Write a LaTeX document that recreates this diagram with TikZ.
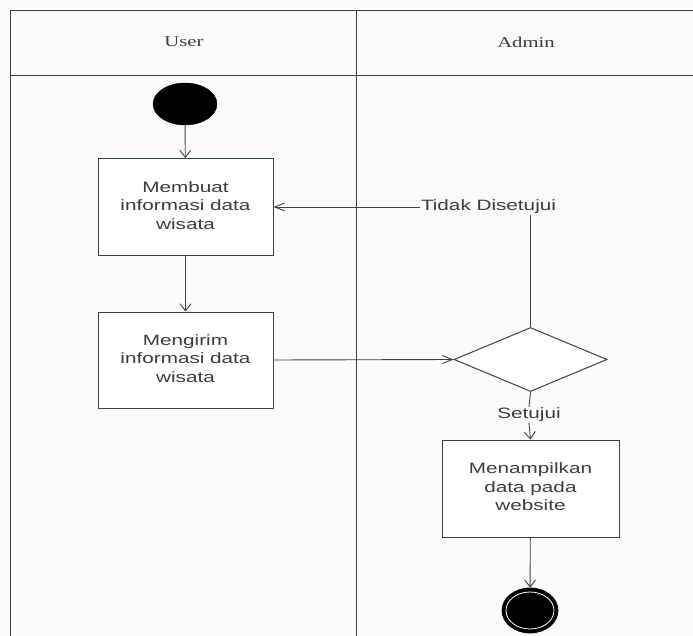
\documentclass[tikz,border=0pt]{standalone}
\usepackage{fontspec}
\setmainfont{Liberation Serif}
\newfontfamily\boxfont{Liberation Sans}
\usetikzlibrary{shapes.geometric,arrows.meta}
\definecolor{bgc}{RGB}{252,251,250}
\definecolor{linec}{RGB}{52,68,68}
\definecolor{txtc}{RGB}{60,60,60}
\newcommand{\wide}[1]{\scalebox{1.38}[1]{#1}}
\tikzset{
  frameline/.style={draw=linec, line width=1pt},
  actbox/.style={rectangle, draw=linec, line width=1pt, fill=white, inner sep=0pt,
    minimum width=175pt, minimum height=97pt, font=\boxfont\fontsize{15}{18.5}\selectfont,
    text=txtc, align=center},
  lbl/.style={inner sep=1pt, font=\boxfont\fontsize{15}{18}\selectfont, text=txtc},
  hdr/.style={inner sep=0pt, font=\fontsize{15}{18}\selectfont, text=txtc},
  flow/.style={draw=linec, line width=0.9pt},
  varr/.style={flow, -{Straight Barb[length=7pt,width=11pt,line width=0.9pt]}},
  harr/.style={flow, -{Straight Barb[length=10pt,width=8pt,line width=0.9pt]}},
}
\begin{document}
\begin{tikzpicture}[x=1pt,y=-1pt]
\useasboundingbox (0,0) rectangle (693,636);
\fill[bgc] (0,0) rectangle (693,636);
% swimlane frame
\coordinate (tl) at (10,11);
\coordinate (tr) at (693,11);
\coordinate (hl) at (10,75.5);
\coordinate (hr) at (693,75.5);
\coordinate (bl) at (10,636);
\coordinate (dt) at (356,11);
\coordinate (db) at (356,636);
\draw[frameline] (tr) -- (tl) -- (bl);
\draw[frameline] (hl) -- (hr);
\draw[frameline] (dt) -- (db);
\node[hdr] (huser) at (184,42) {\wide{User}};
\node[hdr] (hadmin) at (526,42) {\wide{Admin}};
% nodes
\node[ellipse, fill=black, draw=black, minimum width=64pt, minimum height=42pt, inner sep=0pt] (start) at (185,104) {};
\node[actbox] (b1) at (185.5,207) {\wide{\begin{tabular}{@{}c@{}}Membuat\\informasi data\\wisata\end{tabular}}};
\node[actbox, minimum height=96pt] (b2) at (185.5,360) {\wide{\begin{tabular}{@{}c@{}}Mengirim\\informasi data\\wisata\end{tabular}}};
\node[diamond, draw=linec, line width=1pt, fill=white, minimum width=153pt, minimum height=64pt, inner sep=0pt] (dec) at (530.5,359.5) {};
\node[lbl] (tidak) at (488.5,207) {\wide{Tidak Disetujui}};
\node[lbl] (setuju) at (529,415) {\wide{Setujui}};
\node[actbox, minimum width=177pt] (b3) at (530.5,488.5) {\wide{\begin{tabular}{@{}c@{}}Menampilkan\\data pada\\website\end{tabular}}};
\node[ellipse, fill=black, draw=black, line width=0.8pt, minimum width=56pt, minimum height=45pt, inner sep=0pt] (end) at (530,610.5) {};
\draw[white, line width=0.8pt] (end.center) ellipse [x radius=24pt, y radius=18.5pt];
% connectors
\draw[varr] (start) -- (b1);
\draw[varr] (b1) -- (b2);
\draw[harr] (b2.east) -- (dec.west);
\draw[flow] (dec.north) -- (dec.north |- tidak.south);
\draw[harr] (tidak.west) -- (b1.east);
\draw[flow] (dec.south) -- (setuju.north);
\draw[varr] (setuju.south) -- (b3.north);
\draw[varr] (b3) -- (end);
\end{tikzpicture}
\end{document}
